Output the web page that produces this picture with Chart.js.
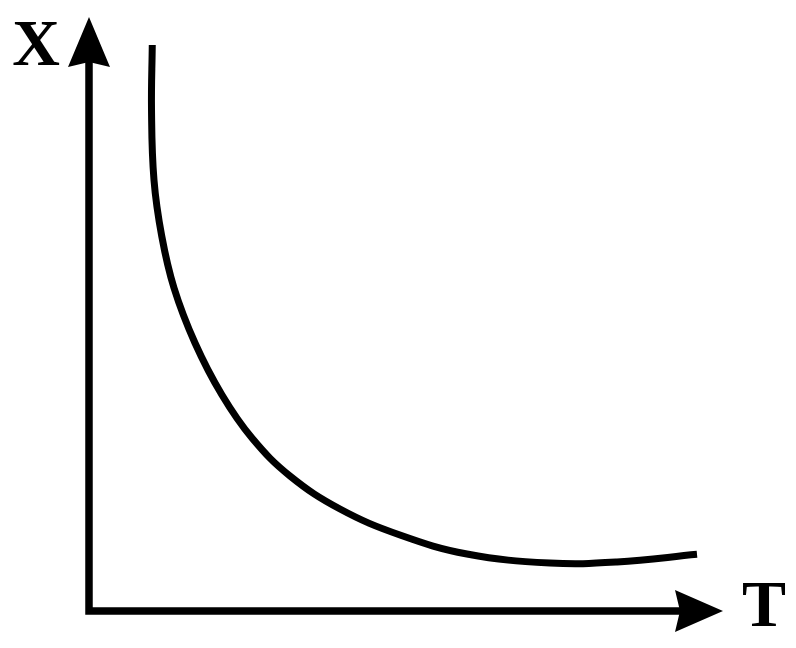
<!DOCTYPE html>
<html>
<head>
<meta charset="utf-8">
<script src="https://cdn.jsdelivr.net/npm/chart.js@4/dist/chart.umd.min.js"></script>
<style>
html,body{margin:0;padding:0;background:#fff;}
#wrap{width:796px;height:648px;}
</style>
</head>
<body>
<div id="wrap"><canvas id="c" width="796" height="648"></canvas></div>
<script>
// Data (arbitrary units, axes 0..10)
const tValues = [0.998, 0.986, 1.025, 1.147, 1.341, 1.672, 2.098, 2.571, 3.170, 3.959, 4.905, 5.962, 7.271, 8.328, 9.590];
const xValues = [9.529, 8.434, 7.256, 6.313, 5.438, 4.512, 3.636, 2.912, 2.273, 1.717, 1.279, 0.960, 0.808, 0.825, 0.955];
const xAxisLabel = 'T';
const yAxisLabel = 'X';

const points = tValues.map((t, i) => ({x: t, y: xValues[i]}));

const arrowAxes = {
  id: 'arrowAxes',
  afterDatasetsDraw(chart) {
    const ctx = chart.ctx;
    const xs = chart.scales.x, ys = chart.scales.y;
    const ox = xs.getPixelForValue(0), oy = ys.getPixelForValue(0);
    const xEnd = xs.getPixelForValue(10), yEnd = ys.getPixelForValue(10);
    ctx.save();
    ctx.strokeStyle = '#000';
    ctx.fillStyle = '#000';
    ctx.lineWidth = 7.5;
    ctx.lineCap = 'butt';
    ctx.beginPath();
    ctx.moveTo(ox, yEnd + 40);
    ctx.lineTo(ox, oy);
    ctx.lineTo(xEnd - 40, oy);
    ctx.stroke();
    // y arrowhead
    ctx.beginPath();
    ctx.moveTo(ox, yEnd);
    ctx.lineTo(ox + 21, yEnd + 50);
    ctx.lineTo(ox, yEnd + 45);
    ctx.lineTo(ox - 21, yEnd + 50);
    ctx.closePath();
    ctx.fill();
    // x arrowhead
    ctx.beginPath();
    ctx.moveTo(xEnd, oy);
    ctx.lineTo(xEnd - 48, oy - 21);
    ctx.lineTo(xEnd - 43, oy);
    ctx.lineTo(xEnd - 48, oy + 21);
    ctx.closePath();
    ctx.fill();
    // labels
    ctx.font = 'bold 66px "Liberation Serif", "Times New Roman", serif';
    ctx.textBaseline = 'alphabetic';
    ctx.textAlign = 'center';
    ctx.fillText(yAxisLabel, ox - 53, yEnd + 48);
    ctx.fillText(xAxisLabel, xEnd + 41, oy + 15);
    ctx.restore();
  }
};

new Chart(document.getElementById('c'), {
  type: 'line',
  data: {
    datasets: [{
      data: points,
      borderColor: '#000',
      borderWidth: 7,
      pointRadius: 0,
      tension: 0.4,
      fill: false
    }]
  },
  options: {
    responsive: false,
    animation: false,
    layout: {padding: {left: 89, right: 73, top: 17, bottom: 37}},
    plugins: {legend: {display: false}, tooltip: {enabled: false}},
    scales: {
      x: {type: 'linear', min: 0, max: 10, display: false},
      y: {type: 'linear', min: 0, max: 10, display: false}
    }
  },
  plugins: [arrowAxes]
});
</script>
</body>
</html>
